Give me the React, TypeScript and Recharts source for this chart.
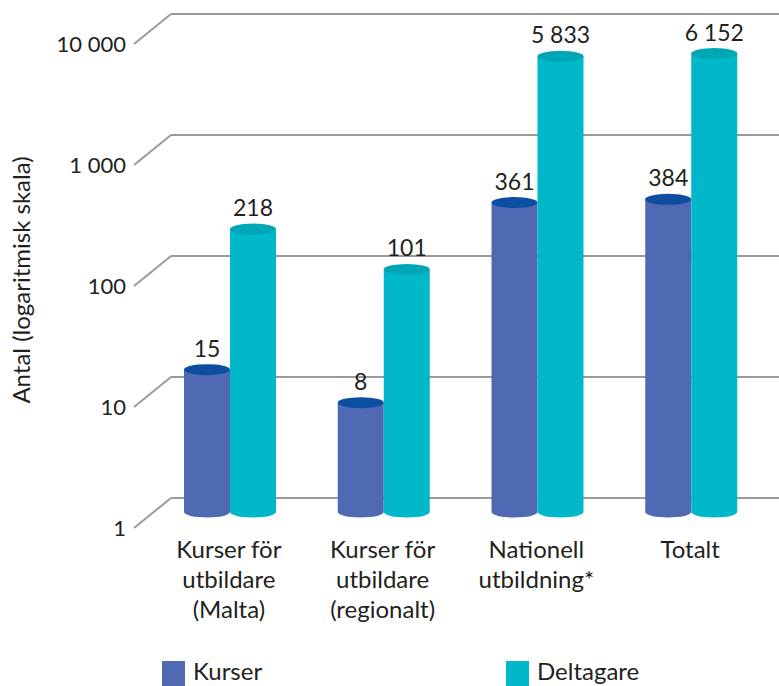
import React from "react";
import { BarChart, Bar, XAxis, YAxis, CartesianGrid, LabelList } from "recharts";

const categories = [
  "Kurser för\nutbildare\n(Malta)",
  "Kurser för\nutbildare\n(regionalt)",
  "Nationell\nutbildning*",
  "Totalt",
];
const kurser = [15, 8, 361, 384];
const deltagare = [218, 101, 5833, 6152];
const yTicks = [1, 10, 100, 1000, 10000];
const seriesNames = ["Kurser", "Deltagare"];
const seriesKeys = ["kurser", "deltagare"];

const sideColors = ["#4F6AB2", "#00B8C9"];
const topColors = ["#0B4EA2", "#00A6B5"];
const textColor = "#231F20";
const gridColor = "#9A9A9A";
const FONT = "Lato, 'Open Sans', sans-serif";
const SHIFT = 16; // bars sit a bit deeper than the front tick plane

const data = categories.map((name, i) => ({
  name,
  kurser: kurser[i],
  deltagare: deltagare[i],
}));

const fmt = (v: number) => String(v).replace(/\B(?=(\d{3})+(?!\d))/g, " ");

const makeCylinder = (side: string, top: string) => (props: any) => {
  const { x, y, width, height } = props;
  if (!height || height <= 0) return <g />;
  const rx = width / 2;
  const ry = 5.5;
  const yt = y - SHIFT;
  const yb = y + height - SHIFT;
  return (
    <g>
      <path
        d={`M${x},${yt} L${x},${yb} A${rx},${ry} 0 0 0 ${x + width},${yb} L${x + width},${yt} Z`}
        fill={side}
      />
      <ellipse cx={x + rx} cy={yt} rx={rx} ry={ry} fill={top} />
    </g>
  );
};

const ValueLabel = (props: any) => {
  const { x, y, width, value } = props;
  return (
    <text
      x={x + width / 2}
      y={y - SHIFT - 13}
      textAnchor="middle"
      fontSize={23}
      fontFamily={FONT}
      fill={textColor}
    >
      {fmt(value)}
    </text>
  );
};

// gridline: slanted "floor" segment from the front ticks, then the back wall line
const GridLine = (props: any) => {
  const { x1, x2, y1 } = props;
  return (
    <g key={props.key}>
      <line x1={x1 - 19} y1={y1} x2={x1 + 18} y2={y1 - 30} stroke={gridColor} strokeWidth={2} />
      <line x1={x1 + 18} y1={y1 - 30} x2={x2 + 11} y2={y1 - 30} stroke={gridColor} strokeWidth={2} />
    </g>
  );
};

const YTick = (props: any) => {
  const { y, payload } = props;
  return (
    <text x={126} y={y} dy={8} textAnchor="end" fontSize={22} fontFamily={FONT} fill={textColor}>
      {fmt(payload.value)}
    </text>
  );
};

const XTick = (props: any) => {
  const { x, y, payload } = props;
  const lines = String(payload.value).split("\n");
  return (
    <text x={x - 1} y={y} textAnchor="middle" fontSize={24} fontFamily={FONT} fill={textColor}>
      {lines.map((l, i) => (
        <tspan key={i} x={x - 1} dy={i === 0 ? 22 : 30}>
          {l}
        </tspan>
      ))}
    </text>
  );
};

const YLabel = () => (
  <text
    x={0}
    y={0}
    transform="translate(30,280) rotate(-90)"
    textAnchor="middle"
    fontSize={24}
    fontFamily={FONT}
    fill={textColor}
  >
    Antal (logaritmisk skala)
  </text>
);

const legendLeft = [162, 506];

export default function App() {
  return (
    <div
      style={{
        position: "absolute",
        left: 0,
        top: 0,
        width: 779,
        height: 686,
        overflow: "hidden",
        background: "#fff",
        fontFamily: FONT,
      }}
    >
      <BarChart
        width={779}
        height={686}
        data={data}
        margin={{ top: 44, right: 11, bottom: 58, left: 93 }}
        barGap={0}
        barSize={46}
      >
        <CartesianGrid vertical={false} horizontal={GridLine as any} />
        <XAxis
          dataKey="name"
          interval={0}
          tickLine={false}
          axisLine={false}
          height={100}
          tick={<XTick />}
        />
        <YAxis
          scale="log"
          domain={[1, 10000]}
          ticks={yTicks}
          allowDataOverflow
          width={60}
          tickLine={false}
          axisLine={false}
          tick={<YTick />}
          label={<YLabel />}
        />
        {seriesKeys.map((k, i) => (
          <Bar
            key={k}
            dataKey={k}
            name={seriesNames[i]}
            fill={sideColors[i]}
            isAnimationActive={false}
            shape={makeCylinder(sideColors[i], topColors[i])}
          >
            <LabelList dataKey={k} content={<ValueLabel />} />
          </Bar>
        ))}
      </BarChart>
      {seriesNames.map((n, i) => (
        <div
          key={n}
          style={{
            position: "absolute",
            left: legendLeft[i],
            top: 656,
            display: "flex",
            alignItems: "flex-start",
            fontSize: 24,
            lineHeight: "29px",
            color: textColor,
          }}
        >
          <span
            style={{
              display: "inline-block",
              width: 23,
              height: 26,
              marginTop: 5,
              marginRight: 8,
              background: sideColors[i],
            }}
          />
          {n}
        </div>
      ))}
    </div>
  );
}
